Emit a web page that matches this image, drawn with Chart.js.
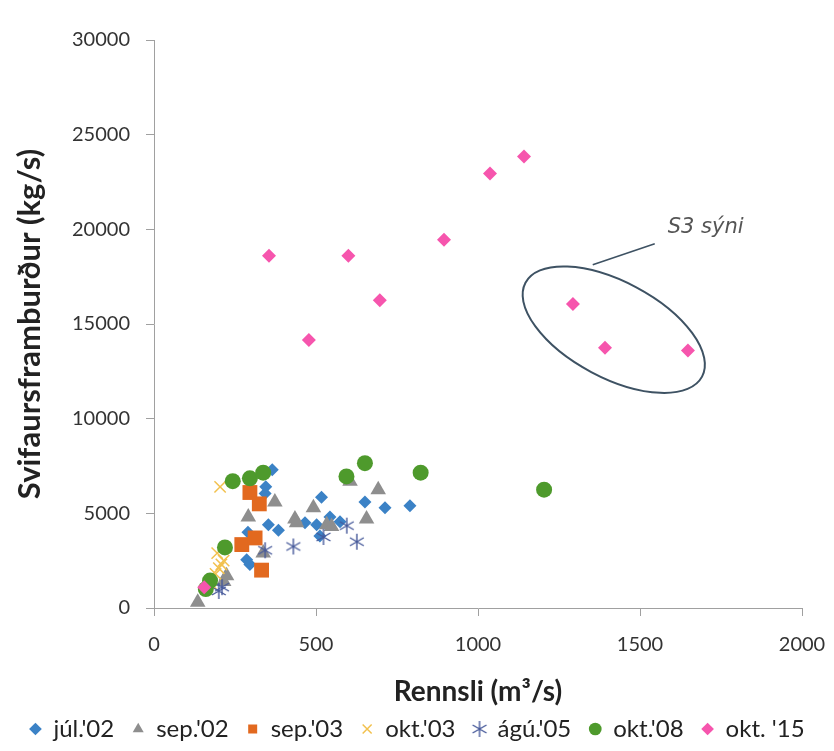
<!DOCTYPE html>
<html>
<head>
<meta charset="utf-8">
<script src="https://cdn.jsdelivr.net/npm/chart.js@4"></script>
<style>
  body { margin: 0; background: #fff; }
  #wrap { width: 834px; height: 751px; }
</style>
</head>
<body>
<div id="wrap"><canvas id="scatter" width="834" height="751"></canvas></div>
<script>
// mælingar: [rennsli m3/s, svifaursframburður kg/s]
const seriesNames = ["júl.'02", "sep.'02", "sep.'03", "okt.'03", "ágú.'05", "okt.'08", "okt. '15"];

const jul02 = [[365,7300],[345,6400],[343,6050],[290,4000],[353,4400],[384,4100],[466,4500],[502,4400],
  [512,3800],[517,5850],[543,4800],[574,4550],[651,5600],[713,5300],[790,5400],[286,2550],[296,2300]];
const sep02 = [[135,300],[215,1400],[224,1700],[291,4800],[337,2900],[373,5600],[435,4700],[440,4500],
  [492,5300],[533,4400],[548,4300],[605,6700],[656,4700],[692,6250]];
const sep03 = [[296,6100],[325,5500],[271,3350],[312,3700],[332,2000]];
const okt03 = [[204,6400],[175,1300],[190,1800],[200,2100],[208,2300],[215,2500],[195,2900]];
const agu05 = [[200,900],[210,1100],[343,3050],[430,3250],[523,3750],[595,4350],[626,3500]];
const okt08 = [[160,1000],[173,1450],[219,3200],[243,6700],[296,6850],[337,7150],[594,6950],
  [651,7650],[823,7150],[1204,6250]];
const okt15 = [[155,1100],[355,18600],[478,14150],[600,18600],[697,16250],[895,19450],[1037,22950],
  [1142,23850],[1293,16050],[1392,13750],[1648,13600]];

const FONT = 'Lato, "Open Sans", sans-serif';

// stjörnumerki: x með lóðréttu striki
function starMarker(size, color) {
  const c = document.createElement('canvas');
  c.width = size; c.height = size;
  const g = c.getContext('2d');
  const m = size / 2, r = size / 2 - 1;
  g.strokeStyle = color;
  g.lineWidth = 1.4;
  g.beginPath();
  g.moveTo(m, m - r); g.lineTo(m, m + r);
  const d = r * Math.cos(Math.PI / 6), e = r * Math.sin(Math.PI / 6);
  g.moveTo(m - d, m - e); g.lineTo(m + d, m + e);
  g.moveTo(m - d, m + e); g.lineTo(m + d, m - e);
  g.stroke();
  return c;
}

const toPts = arr => arr.map(p => ({ x: p[0], y: p[1] }));

const styles = [
  { pointStyle: 'rectRot', color: '#3b82c6', r: 6.5 },
  { pointStyle: 'triangle', color: '#8e8e8e', r: 9 },
  { pointStyle: 'rect', color: '#e2691f', r: 10.5 },
  { pointStyle: 'crossRot', color: '#f2c14e', r: 8, line: 1.5 },
  { pointStyle: starMarker(18, '#46599a'), color: '#46599a', r: 9, line: 1.4 },
  { pointStyle: 'circle', color: '#4e9a2c', r: 8 },
  { pointStyle: 'rectRot', color: '#f655ad', r: 7 }
];
const allSeries = [jul02, sep02, sep03, okt03, agu05, okt08, okt15];

const datasets = allSeries.map((s, i) => {
  const st = styles[i];
  return {
    label: seriesNames[i],
    data: toPts(s),
    pointStyle: st.pointStyle,
    pointRadius: st.r,
    pointHoverRadius: st.r,
    backgroundColor: st.color,
    borderColor: st.color,
    borderWidth: st.line || 0,
    order: allSeries.length - i
  };
});

// hringur utan um S3 sýnin
const ellipseNote = {
  id: 'ellipseNote',
  afterDatasetsDraw(chart) {
    const { ctx, scales: { x, y } } = chart;
    const cx = x.getPixelForValue(1419), cy = y.getPixelForValue(14700);
    ctx.save();
    ctx.strokeStyle = '#3e5263';
    ctx.lineWidth = 2;
    ctx.beginPath();
    ctx.ellipse(cx, cy, 100, 48, 28 * Math.PI / 180, 0, Math.PI * 2);
    ctx.stroke();
    ctx.beginPath();
    ctx.lineWidth = 1.6;
    ctx.moveTo(cx - 21, cy - 65);
    ctx.lineTo(cx + 41, cy - 86);
    ctx.stroke();
    ctx.fillStyle = '#555';
    ctx.font = 'italic 200 21px "DejaVu Sans"';
    ctx.textBaseline = 'middle';
    ctx.fillText('S3 sýni', cx + 54, cy - 102);
    ctx.restore();
  }
};

const axisColor = '#a0a0a0';
const plain = v => String(v);

new Chart(document.getElementById('scatter'), {
  type: 'scatter',
  data: { datasets },
  plugins: [ellipseNote],
  options: {
    responsive: false,
    animation: false,
    layout: { padding: { top: 40, right: 0, bottom: 0, left: 0 } },
    scales: {
      x: {
        type: 'linear',
        min: 0, max: 2000,
        ticks: { stepSize: 500, color: '#333', font: { family: FONT, size: 20 }, padding: 17, callback: plain },
        grid: { drawOnChartArea: false, drawTicks: true, tickLength: 8, color: axisColor },
        border: { color: axisColor },
        title: { display: true, text: 'Rennsli (m³/s)', color: '#222',
          font: { family: FONT, size: 28, weight: 'bold' }, padding: { top: 0, bottom: -10 } },
        afterFit(s) { s.height = 91; s.paddingRight = 32; }
      },
      y: {
        min: 0, max: 30000,
        ticks: { stepSize: 5000, color: '#333', font: { family: FONT, size: 20 }, padding: 16, callback: plain },
        grid: { drawOnChartArea: false, drawTicks: true, tickLength: 8, color: axisColor },
        border: { color: axisColor },
        title: { display: true, text: 'Svifaursframburður (kg/s)', color: '#222',
          font: { family: FONT, size: 31, weight: 'bold' }, padding: { top: 11, bottom: 0 } },
        afterFit(s) { s.width = 154; }
      }
    },
    plugins: {
      legend: {
        position: 'bottom',
        labels: {
          usePointStyle: true,
          boxWidth: 12,
          boxHeight: 9,
          padding: 18,
          color: '#222',
          font: { family: FONT, size: 24 },
          sort: (a, b) => a.datasetIndex - b.datasetIndex
        }
      },
      tooltip: { enabled: false }
    }
  }
});
</script>
</body>
</html>
